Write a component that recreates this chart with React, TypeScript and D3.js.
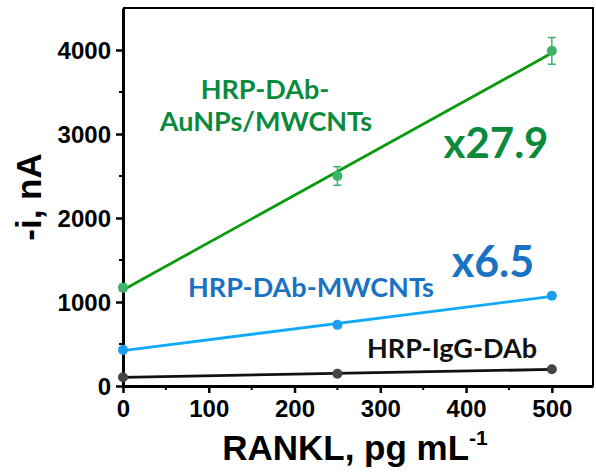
import * as React from 'react';
import * as d3 from 'd3';

// RANKL concentrations, pg/mL
const concentrations = [0, 250, 500];

// current, nA
const goldSeries = [1170, 2500, 3990];
const goldErrors = [40, 110, 160];
const tubeSeries = [430, 728, 1075];
const tubeErrors = [20, 20, 30];
const igSeries = [105, 145, 200];
const igErrors = [10, 10, 10];

const xTicks = [0, 100, 200, 300, 400, 500];
const yTicks = [0, 1000, 2000, 3000, 4000];

const W = 596;
const H = 472;
const margin = { top: 8, right: 3, bottom: 86, left: 123 };

const axisFont = "'Liberation Sans', Arial, sans-serif";
const labelFont = "Lato, 'Open Sans', sans-serif";

function fit(xs: number[], ys: number[]) {
    const mx = d3.mean(xs) as number;
    const my = d3.mean(ys) as number;
    let num = 0;
    let den = 0;
    xs.forEach((x, i) => {
        num += (x - mx) * (ys[i] - my);
        den += (x - mx) * (x - mx);
    });
    const slope = num / den;
    return { slope: slope, intercept: my - slope * mx };
}

const App = () => {
    const ref = React.useRef<SVGSVGElement>(null);

    React.useEffect(() => {
        const svg = d3.select(ref.current);
        svg.selectAll('*').remove();

        const x = d3.scaleLinear().domain([0, 548]).range([margin.left, W - margin.right]);
        const y = d3.scaleLinear().domain([0, 4500]).range([H - margin.bottom, margin.top]);

        // frame (top + right)
        svg.append('path')
            .attr('d', `M${x(0)},${y(4500)}H${x(548)}V${y(0)}`)
            .attr('fill', 'none')
            .attr('stroke', '#000')
            .attr('stroke-width', 2);

        // minor ticks
        const g = svg.append('g');
        d3.range(50, 550, 100).forEach(v => {
            g.append('line').attr('x1', x(v)).attr('x2', x(v))
                .attr('y1', y(0)).attr('y2', y(0) + 4)
                .attr('stroke', '#000').attr('stroke-width', 2);
        });
        d3.range(500, 4500, 1000).forEach(v => {
            g.append('line').attr('x1', x(0)).attr('x2', x(0) - 4)
                .attr('y1', y(v)).attr('y2', y(v))
                .attr('stroke', '#000').attr('stroke-width', 2);
        });

        const xAxis = d3.axisBottom(x).tickValues(xTicks).tickFormat(d3.format('d')).tickSize(7).tickPadding(7).tickSizeOuter(0);
        const yAxis = d3.axisLeft(y).tickValues(yTicks).tickFormat(d3.format('d')).tickSize(7).tickPadding(5).tickSizeOuter(0);

        const gx = svg.append('g')
            .attr('transform', `translate(0,${y(0)})`)
            .call(xAxis);
        const gy = svg.append('g')
            .attr('transform', `translate(${x(0)},0)`)
            .call(yAxis);
        [gx, gy].forEach(a => {
            a.select('.domain').attr('stroke-width', 3);
            a.selectAll('.tick line').attr('stroke-width', 2.5);
            a.selectAll('.tick text')
                .style('font-family', axisFont)
                .style('font-weight', 'bold')
                .style('font-size', '24px')
                .attr('fill', '#000');
        });
        gy.selectAll('.tick text').attr('dy', '0.36em');

        // axis titles
        const xt = svg.append('text')
            .attr('x', 355)
            .attr('y', 460)
            .attr('text-anchor', 'middle')
            .style('font-family', axisFont)
            .style('font-weight', 'bold')
            .style('font-size', '35px');
        xt.append('tspan').text('RANKL, pg mL');
        xt.append('tspan').attr('dy', -15).style('font-size', '21px').text('-1');

        svg.append('text')
            .attr('transform', `translate(41,${197}) rotate(-90)`)
            .attr('text-anchor', 'middle')
            .style('font-family', axisFont)
            .style('font-weight', 'bold')
            .style('font-size', '35px')
            .text('-i, nA');

        const series = [
            { values: igSeries, errors: igErrors, line: '#111111', marker: '#444444' },
            { values: tubeSeries, errors: tubeErrors, line: '#12aaf8', marker: '#1b9ef0' },
            { values: goldSeries, errors: goldErrors, line: '#0a9a10', marker: '#3cb368' },
        ];

        series.forEach(s => {
            const f = fit(concentrations, s.values);
            svg.append('line')
                .attr('x1', x(0)).attr('y1', y(f.intercept))
                .attr('x2', x(500)).attr('y2', y(f.intercept + f.slope * 500))
                .attr('stroke', s.line)
                .attr('stroke-width', 2.8);

            concentrations.forEach((c, i) => {
                const v = s.values[i];
                const e = s.errors[i];
                if (e > 15) {
                    svg.append('path')
                        .attr('d', `M${x(c) - 4},${y(v + e)}H${x(c) + 4}M${x(c)},${y(v + e)}V${y(v - e)}M${x(c) - 4},${y(v - e)}H${x(c) + 4}`)
                        .attr('stroke', s.marker)
                        .attr('stroke-width', 1.5)
                        .attr('fill', 'none');
                }
                svg.append('circle')
                    .attr('cx', x(c))
                    .attr('cy', y(v))
                    .attr('r', 5)
                    .attr('fill', s.marker);
            });
        });

        const note = (txt: string, cx: number, cy: number, size: number, color: string, anchor = 'middle') => {
            svg.append('text')
                .attr('x', cx)
                .attr('y', cy)
                .attr('text-anchor', anchor)
                .style('font-family', labelFont)
                .style('font-weight', 'bold')
                .style('font-size', size + 'px')
                .attr('fill', color)
                .text(txt);
        };

        note('HRP-DAb-', 265, 99, 27, '#0b8a3c');
        note('AuNPs/MWCNTs', 266, 131, 27, '#0b8a3c');
        note('x27.9', 496, 158, 42, '#0b8a3c');
        note('HRP-DAb-MWCNTs', 311, 297, 27, '#1a72c4');
        note('x6.5', 493, 277, 43, '#1a72c4');
        note('HRP-IgG-DAb', 452, 358, 27, '#111111');
    }, []);

    return (
        <div style={{ position: 'absolute', left: 0, top: 0 }}>
            <svg ref={ref} width={W} height={H} style={{ display: 'block', background: '#fff' }} />
        </div>
    );
};

export default App;
